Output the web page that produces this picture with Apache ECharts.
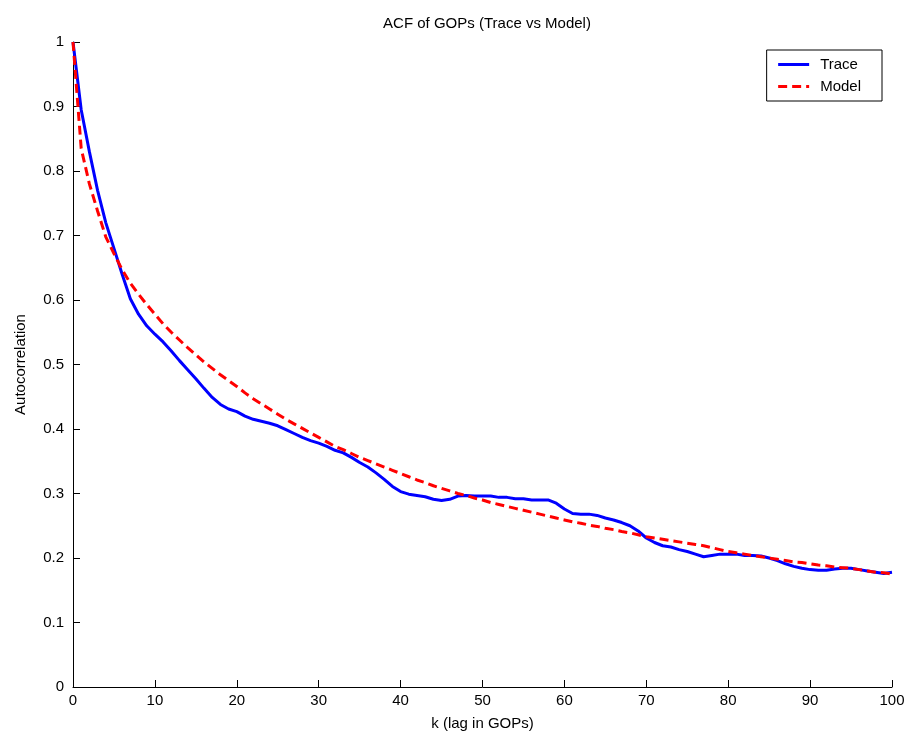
<!DOCTYPE html>
<html><head><meta charset="utf-8">
<script src="https://cdn.jsdelivr.net/npm/echarts@6/dist/echarts.min.js"></script>
<style>html,body{margin:0;padding:0;background:#fff}#c{width:910px;height:740px}</style>
</head><body><div id="c"></div>
<script>
const lags = Array.from({length:101},(_,i)=>i);
const trace = [1.0,0.895,0.83,0.77,0.72,0.68,0.64,0.602,0.578,0.56,0.547,0.535,0.521,0.506,0.492,0.478,0.463,0.449,0.438,0.431,0.427,0.42,0.415,0.412,0.409,0.405,0.399,0.393,0.387,0.382,0.378,0.373,0.367,0.363,0.356,0.348,0.341,0.332,0.322,0.311,0.303,0.299,0.297,0.295,0.291,0.289,0.291,0.296,0.297,0.296,0.296,0.296,0.294,0.294,0.292,0.292,0.29,0.29,0.29,0.285,0.276,0.269,0.268,0.268,0.266,0.262,0.259,0.255,0.25,0.242,0.231,0.224,0.219,0.217,0.213,0.21,0.206,0.202,0.204,0.206,0.206,0.206,0.204,0.204,0.203,0.2,0.196,0.191,0.187,0.184,0.182,0.181,0.181,0.183,0.184,0.184,0.182,0.18,0.178,0.176,0.178];
const model = [1.0,0.835,0.78,0.738,0.698,0.672,0.647,0.626,0.609,0.593,0.578,0.563,0.55,0.538,0.526,0.515,0.504,0.494,0.484,0.475,0.466,0.456,0.447,0.439,0.431,0.423,0.415,0.408,0.401,0.394,0.387,0.38,0.373,0.368,0.362,0.356,0.351,0.346,0.341,0.336,0.331,0.326,0.321,0.317,0.312,0.308,0.304,0.30,0.297,0.293,0.29,0.286,0.283,0.28,0.277,0.274,0.271,0.268,0.265,0.262,0.259,0.256,0.254,0.251,0.249,0.246,0.244,0.241,0.239,0.236,0.233,0.231,0.229,0.227,0.225,0.223,0.221,0.219,0.216,0.213,0.21,0.208,0.206,0.204,0.202,0.2,0.198,0.196,0.194,0.193,0.191,0.189,0.188,0.186,0.185,0.184,0.182,0.18,0.178,0.177,0.175];
const seriesNames = ['Trace','Model'];
const titleText = 'ACF of GOPs (Trace vs Model)';
const xName = 'k (lag in GOPs)';
const yName = 'Autocorrelation';

const font = 'Liberation Sans, Arial, Helvetica, sans-serif';
const chart = echarts.init(document.getElementById('c'));
chart.setOption({
  animation:false,
  backgroundColor:'#fff',
  title:{text:titleText,left:482,top:11,textAlign:'center',textStyle:{fontFamily:font,fontSize:15,fontWeight:'normal',color:'#000'}},
  grid:{left:73,right:18,top:42,bottom:53},
  legend:{
    orient:'vertical',right:28,top:50,
    data:seriesNames,
    backgroundColor:'#fff',borderColor:'#000',borderWidth:1,borderRadius:0,
    padding:[7,21,7,10],itemGap:7,itemWidth:31,itemHeight:12,
    itemStyle:{opacity:0},
    lineStyle:{width:3},
    textStyle:{fontFamily:font,fontSize:15,color:'#000',padding:[0,0,0,6]}
  },
  xAxis:{
    type:'value',min:0,max:100,interval:10,
    name:xName,nameLocation:'middle',nameGap:29,
    nameTextStyle:{fontFamily:font,fontSize:15,color:'#000'},
    axisLine:{lineStyle:{color:'#000',width:1}},
    axisTick:{inside:true,length:7,lineStyle:{color:'#000'}},
    axisLabel:{fontFamily:font,fontSize:15,color:'#000',margin:6},
    splitLine:{show:false}
  },
  yAxis:{
    type:'value',min:0,max:1,interval:0.1,
    name:yName,nameLocation:'middle',nameGap:45,
    nameTextStyle:{fontFamily:font,fontSize:15,color:'#000'},
    axisLine:{show:true,lineStyle:{color:'#000',width:1}},
    axisTick:{show:true,inside:true,length:7,lineStyle:{color:'#000'}},
    axisLabel:{fontFamily:font,fontSize:15,color:'#000',margin:9},
    splitLine:{show:false}
  },
  series:[
    {name:seriesNames[0],type:'line',showSymbol:false,symbol:'none',smooth:false,
     data:lags.map((k,i)=>[k,trace[i]]),
     lineStyle:{color:'#0000ff',width:3},itemStyle:{color:'#0000ff'}},
    {name:seriesNames[1],type:'line',showSymbol:false,symbol:'none',smooth:false,
     data:lags.map((k,i)=>[k,model[i]]),
     lineStyle:{color:'#ff0000',width:3,type:[9,5]},itemStyle:{color:'#ff0000'}}
  ]
});
</script></body></html>
